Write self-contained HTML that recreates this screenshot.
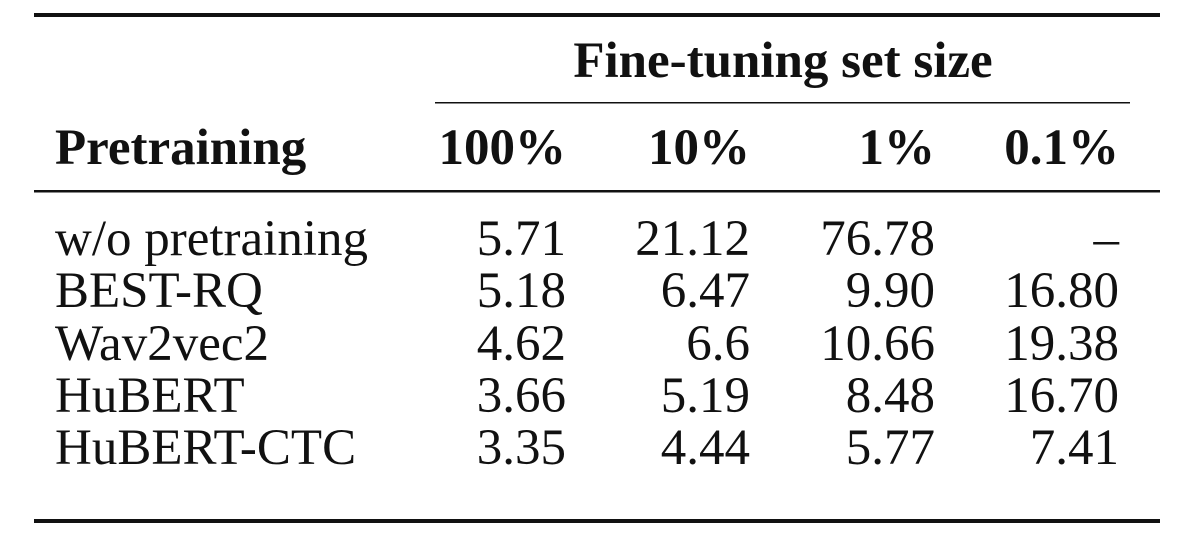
<!DOCTYPE html>
<html><head><meta charset="utf-8"><style>
html,body{margin:0;padding:0;background:#fff;}
svg{display:block;}
text{font-family:"Liberation Serif",serif;font-size:51px;fill:#111;}
.b{font-weight:bold;}
</style></head><body>
<svg width="1188" height="542" viewBox="0 0 1188 542">
<rect x="34" y="13" width="1126" height="4" fill="#111"/>
<text class="b" x="783" y="77" text-anchor="middle">Fine-tuning set size</text>
<rect x="435" y="102" width="695" height="1.5" fill="#111"/>
<text class="b" x="55" y="164">Pretraining</text>
<text class="b" x="566" y="164" text-anchor="end">100%</text>
<text class="b" x="750" y="164" text-anchor="end">10%</text>
<text class="b" x="935" y="164" text-anchor="end">1%</text>
<text class="b" x="1119" y="164" text-anchor="end">0.1%</text>
<rect x="34" y="190" width="1126" height="2.5" fill="#111"/>
<g>
<text x="55" y="255">w/o pretraining</text>
<text x="566" y="255" text-anchor="end">5.71</text>
<text x="750" y="255" text-anchor="end">21.12</text>
<text x="935" y="255" text-anchor="end">76.78</text>
<text x="1119" y="255" text-anchor="end">–</text>
<text x="55" y="307">BEST-RQ</text>
<text x="566" y="307" text-anchor="end">5.18</text>
<text x="750" y="307" text-anchor="end">6.47</text>
<text x="935" y="307" text-anchor="end">9.90</text>
<text x="1119" y="307" text-anchor="end">16.80</text>
<text x="55" y="360">Wav2vec2</text>
<text x="566" y="360" text-anchor="end">4.62</text>
<text x="750" y="360" text-anchor="end">6.6</text>
<text x="935" y="360" text-anchor="end">10.66</text>
<text x="1119" y="360" text-anchor="end">19.38</text>
<text x="55" y="412">HuBERT</text>
<text x="566" y="412" text-anchor="end">3.66</text>
<text x="750" y="412" text-anchor="end">5.19</text>
<text x="935" y="412" text-anchor="end">8.48</text>
<text x="1119" y="412" text-anchor="end">16.70</text>
<text x="55" y="464">HuBERT-CTC</text>
<text x="566" y="464" text-anchor="end">3.35</text>
<text x="750" y="464" text-anchor="end">4.44</text>
<text x="935" y="464" text-anchor="end">5.77</text>
<text x="1119" y="464" text-anchor="end">7.41</text>
</g>
<rect x="34" y="519" width="1126" height="4" fill="#111"/>
</svg>
</body></html>
